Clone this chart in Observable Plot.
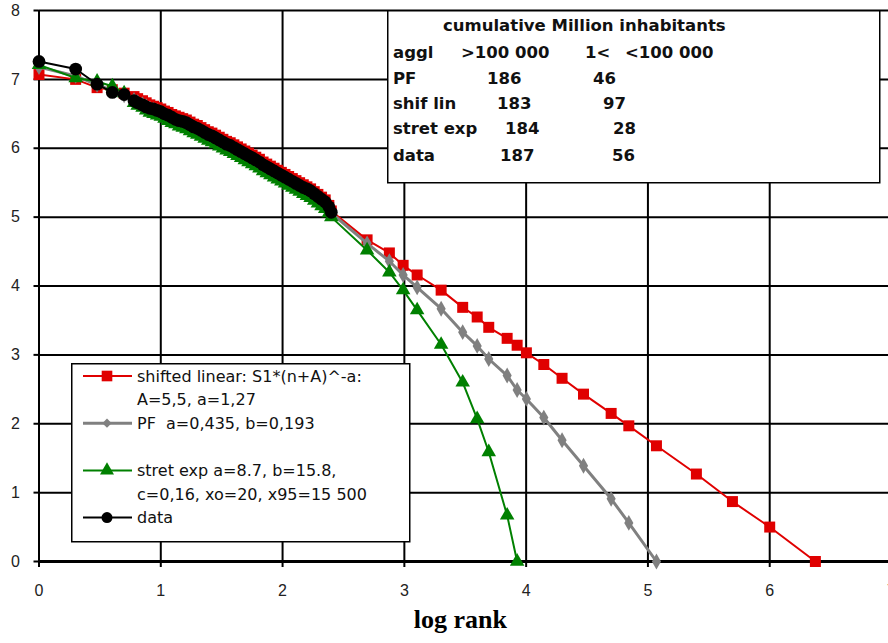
<!DOCTYPE html>
<html><head><meta charset="utf-8">
<script src="https://cdn.jsdelivr.net/npm/d3@7"></script>
<script src="https://cdn.jsdelivr.net/npm/@observablehq/plot@0.6"></script>
<style>
body{margin:0;background:#fff;}
#wrap{position:relative;width:888px;height:643px;overflow:hidden;background:#fff;}
.ov{position:absolute;overflow:visible;}
</style></head><body><div id="wrap"></div>
<script>
// ---------- data ----------
const xTicks = [0, 1, 2, 3, 4, 5, 6, 7];
const yTicks = [0, 1, 2, 3, 4, 5, 6, 7, 8];

// log rank positions: dense part (largest agglomerations) and sparse tail
const denseX = [0, 0.301, 0.477, 0.602, 0.699,
  0.78, 0.81, 0.85, 0.88, 0.91, 0.94, 0.97, 1.00, 1.03, 1.06, 1.09, 1.12, 1.15, 1.18, 1.21,
  1.24, 1.27, 1.30, 1.33, 1.36, 1.39, 1.42, 1.45, 1.48, 1.51, 1.54, 1.57, 1.60, 1.63, 1.66,
  1.69, 1.72, 1.75, 1.78, 1.81, 1.84, 1.87, 1.90, 1.93, 1.96, 1.99, 2.02, 2.05, 2.08, 2.11,
  2.14, 2.17, 2.20, 2.23, 2.26, 2.29, 2.32, 2.35, 2.38, 2.40];
const tailX = [2.694, 2.877, 2.990, 3.105, 3.302, 3.479, 3.598, 3.693, 3.844, 3.926, 4.002,
  4.145, 4.295, 4.471, 4.698, 4.843, 5.070, 5.398, 5.694, 6.000, 6.375];

// data (black)
const dataY = [7.26, 7.15, 6.93, 6.81, 6.78,
  6.69, 6.66, 6.63, 6.60, 6.58, 6.57, 6.55, 6.53, 6.50, 6.48, 6.45, 6.42, 6.40, 6.39, 6.37,
  6.34, 6.31, 6.29, 6.26, 6.23, 6.20, 6.18, 6.15, 6.12, 6.09, 6.06, 6.04, 6.01, 5.98, 5.95,
  5.92, 5.89, 5.86, 5.83, 5.80, 5.76, 5.73, 5.70, 5.67, 5.64, 5.61, 5.58, 5.55, 5.52, 5.49,
  5.46, 5.43, 5.41, 5.38, 5.34, 5.30, 5.26, 5.22, 5.15, 5.07];

// shifted linear (red)
const shiftedDenseY = [7.07, 7.00, 6.88, 6.85, 6.80,
  6.75, 6.72, 6.69, 6.66, 6.63, 6.61, 6.59, 6.57, 6.54, 6.52, 6.49, 6.47, 6.45, 6.43, 6.41,
  6.38, 6.35, 6.33, 6.30, 6.27, 6.24, 6.22, 6.19, 6.16, 6.13, 6.10, 6.08, 6.05, 6.02, 5.99,
  5.96, 5.93, 5.90, 5.87, 5.84, 5.80, 5.77, 5.74, 5.71, 5.68, 5.65, 5.62, 5.59, 5.56, 5.53,
  5.50, 5.47, 5.44, 5.41, 5.37, 5.33, 5.29, 5.25, 5.17, 5.09];
const shiftedTailY = [4.67, 4.48, 4.30, 4.16, 3.94, 3.69, 3.55, 3.40, 3.24, 3.14, 3.03,
  2.86, 2.66, 2.43, 2.15, 1.97, 1.68, 1.27, 0.87, 0.50, 0.00];

// PF (gray)
const pfDenseY = [7.18, 7.05, 6.92, 6.84, 6.77,
  6.70, 6.67, 6.64, 6.61, 6.58, 6.56, 6.54, 6.52, 6.49, 6.46, 6.43, 6.41, 6.39, 6.37, 6.35,
  6.32, 6.29, 6.27, 6.24, 6.21, 6.18, 6.16, 6.13, 6.10, 6.07, 6.04, 6.02, 5.99, 5.96, 5.93,
  5.90, 5.87, 5.84, 5.81, 5.78, 5.74, 5.71, 5.68, 5.65, 5.62, 5.59, 5.56, 5.53, 5.50, 5.47,
  5.44, 5.41, 5.38, 5.35, 5.31, 5.27, 5.23, 5.19, 5.13, 5.06];
const pfTailY = [4.62, 4.36, 4.16, 3.98, 3.67, 3.33, 3.13, 2.94, 2.70, 2.49, 2.36,
  2.09, 1.76, 1.39, 0.91, 0.56, 0.00];

// stretched exponential (green)
const stretDenseY = [7.21, 7.02, 6.97, 6.90, 6.80,
  6.66, 6.62, 6.59, 6.55, 6.52, 6.50, 6.48, 6.46, 6.43, 6.40, 6.37, 6.35, 6.32, 6.30, 6.28,
  6.25, 6.22, 6.20, 6.17, 6.14, 6.11, 6.09, 6.06, 6.03, 6.00, 5.97, 5.95, 5.92, 5.89, 5.86,
  5.83, 5.80, 5.77, 5.74, 5.71, 5.67, 5.64, 5.61, 5.58, 5.55, 5.52, 5.49, 5.46, 5.43, 5.40,
  5.37, 5.34, 5.31, 5.28, 5.24, 5.20, 5.16, 5.12, 5.06, 5.00];
const stretTailY = [4.52, 4.20, 3.94, 3.65, 3.15, 2.60, 2.07, 1.59, 0.67, 0.00];

const legendLines = [
  "shifted linear: S1*(n+A)^-a:", "A=5,5, a=1,27", "PF  a=0,435, b=0,193",
  "stret exp a=8.7, b=15.8,", "c=0,16, xo=20, x95=15 500", "data"];
const tableTitle = "cumulative Million inhabitants";
const tableRows = [
  ["aggl", ">100 000", "1<", "<100 000"],
  ["PF", "186", "46"],
  ["shif lin", "183", "97"],
  ["stret exp", "184", "28"],
  ["data", "187", "56"]];
const xLabel = "log rank";

// ---------- build tables ----------
const allX = denseX.concat(tailX);
const toRows = ys => ys.map((y, i) => ({x: allX[i], y}));
const shifted = toRows(shiftedDenseY.concat(shiftedTailY));
const pf = toRows(pfDenseY.concat(pfTailY));
const stret = toRows(stretDenseY.concat(stretTailY));
const data = toRows(dataY);

const RED = "#e00000", GRAY = "#808080", GREEN = "#008000", BLACK = "#000000";
const tickFont = "'Liberation Sans', Arial, sans-serif";
const intFmt = d3.format("d");

const chart = Plot.plot({
  width: 888, height: 643,
  marginLeft: 38.5, marginRight: -3, marginTop: 10, marginBottom: 82,
  x: {domain: [0, 7]},
  y: {domain: [0, 8]},
  style: {fontFamily: tickFont, fontSize: "16px", color: "black", background: "white", overflow: "visible"},
  marks: [
    Plot.gridX(xTicks, {stroke: BLACK, strokeOpacity: 1, strokeWidth: 2}),
    Plot.gridY(yTicks, {stroke: BLACK, strokeOpacity: 1, strokeWidth: 2}),
    Plot.ruleY([0], {stroke: BLACK, strokeWidth: 3}),
    Plot.axisX(xTicks, {tickSize: 6, tickPadding: 17, tickFormat: intFmt, label: null, stroke: BLACK, strokeWidth: 2, fontSize: 16, fill: "#222"}),
    Plot.axisY(yTicks, {tickSize: 5, tickPadding: 14, tickFormat: intFmt, label: null, stroke: BLACK, strokeWidth: 2, fontSize: 16, fill: "#222"}),
    Plot.text([xLabel], {frameAnchor: "bottom", dx: -5, dy: 66, fontFamily: "'Liberation Serif', 'Times New Roman', serif", fontWeight: "bold", fontSize: 26, fill: BLACK}),
    Plot.line(shifted, {x: "x", y: "y", stroke: RED, strokeWidth: 2}),
    Plot.dot(shifted, {x: "x", y: "y", symbol: "square", r: 6.2, fill: RED, stroke: null}),
    Plot.line(pf, {x: "x", y: "y", stroke: GRAY, strokeWidth: 3}),
    Plot.dot(pf, {x: "x", y: "y", symbol: "diamond", r: 4.8, fill: GRAY, stroke: null}),
    Plot.line(stret, {x: "x", y: "y", stroke: GREEN, strokeWidth: 2}),
    Plot.dot(stret, {x: "x", y: "y", symbol: "triangle", r: 5.4, fill: GREEN, stroke: null}),
    Plot.line(data, {x: "x", y: "y", stroke: BLACK, strokeWidth: 2}),
    Plot.dot(data, {x: "x", y: "y", symbol: "circle", r: 6.4, fill: BLACK, stroke: null})
  ]
});
const wrap = document.getElementById("wrap");
wrap.appendChild(chart);

// ---------- legend box (lower left) ----------
const leg = d3.select(wrap).append("svg").attr("class", "ov")
  .style("left", "71px").style("top", "363px").attr("width", 340).attr("height", 180);
leg.append("rect").attr("x", 0.75).attr("y", 0.75).attr("width", 338).attr("height", 178)
  .attr("fill", "white").attr("stroke", "black").attr("stroke-width", 1.5);
const legFont = "'DejaVu Sans', sans-serif";
const rowY = k => 13 + 23.6 * k;
const legText = [[legendLines[0], 0], [legendLines[1], 1], [legendLines[2], 2], [legendLines[3], 4], [legendLines[4], 5], [legendLines[5], 6]];
legText.forEach(([t, k]) => {
  leg.append("text").attr("x", 66).attr("y", rowY(k)).attr("dominant-baseline", "central")
    .attr("font-family", legFont).attr("font-size", 16).attr("fill", "#111")
    .attr("xml:space", "preserve").style("white-space", "pre").text(t);
});
const samples = [[RED, "square", 0, 2, 6], [GRAY, "diamond", 2, 3, 4.2], [GREEN, "triangle", 4, 2, 5.2], [BLACK, "circle", 6, 2, 5.5]];
const symMap = {square: d3.symbolSquare, diamond: d3.symbolDiamond2, triangle: d3.symbolTriangle, circle: d3.symbolCircle};
samples.forEach(([c, s, k, w, r]) => {
  const y = rowY(k);
  leg.append("line").attr("x1", 12).attr("x2", 61).attr("y1", y).attr("y2", y).attr("stroke", c).attr("stroke-width", w);
  leg.append("path").attr("transform", `translate(36,${y})`).attr("fill", c)
    .attr("d", d3.symbol(symMap[s], Math.PI * r * r)());
});

// ---------- table box (upper right) ----------
const tb = d3.select(wrap).append("svg").attr("class", "ov")
  .style("left", "387px").style("top", "10px").attr("width", 494).attr("height", 174);
tb.append("rect").attr("x", 0.75).attr("y", 0.75).attr("width", 492).attr("height", 172)
  .attr("fill", "white").attr("stroke", "black").attr("stroke-width", 1.5);
const tbFont = "'DejaVu Sans', sans-serif";
const addT = (t, x, y) => tb.append("text").attr("x", x).attr("y", y).attr("dominant-baseline", "central")
  .attr("font-family", tbFont).attr("font-weight", "bold").attr("font-size", 16.5).attr("fill", "#111").text(t);
addT(tableTitle, 56, 15);
const rowYs = [42, 68, 93, 118, 145];
const colX = [[6, 74, 198, 238], [6, 100], [6, 110], [6, 118], [6, 113]];
const col2X = [null, 206, 216, 226, 225];
tableRows.forEach((r, i) => {
  if (i === 0) r.forEach((t, j) => addT(t, colX[0][j], rowYs[0]));
  else { addT(r[0], 6, rowYs[i]); addT(r[1], colX[i][1], rowYs[i]); addT(r[2], col2X[i], rowYs[i]); }
});
</script></body></html>
